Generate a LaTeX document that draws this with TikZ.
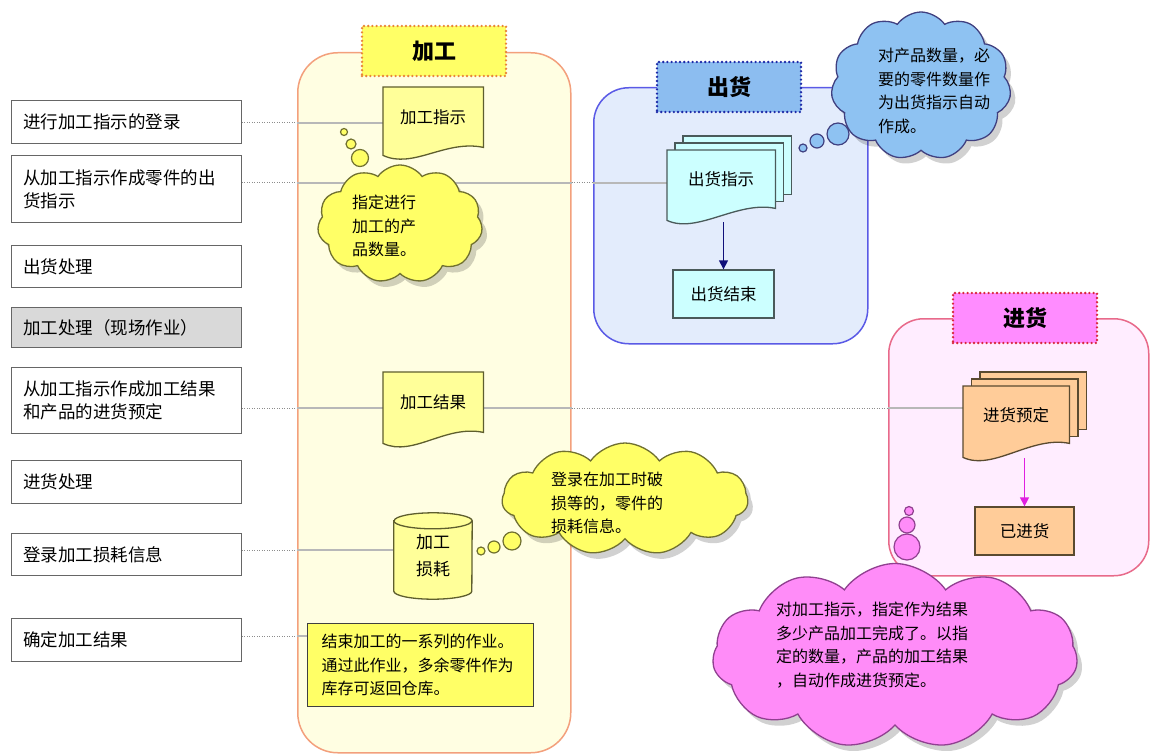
\documentclass[tikz,border=0pt]{standalone}
\usepackage{fontspec}
\setmainfont{Noto Sans CJK SC}
\usetikzlibrary{shapes.symbols,shadows,calc,arrows.meta}
\pgfdeclarelayer{back}
\pgfdeclarelayer{mid}
\pgfsetlayers{back,mid,main}
\definecolor{boxG}{HTML}{D9D9D9}
\definecolor{colF}{HTML}{FFFEE2}
\definecolor{colD}{HTML}{F3A07C}
\definecolor{shipF}{HTML}{E3ECFC}
\definecolor{shipD}{HTML}{5A5AE6}
\definecolor{recvF}{HTML}{FFEDFF}
\definecolor{recvD}{HTML}{E86A8A}
\definecolor{tKF}{HTML}{FFFF66}
\definecolor{tKD}{HTML}{E8853A}
\definecolor{tSF}{HTML}{8CBDF0}
\definecolor{tSD}{HTML}{1E2AA8}
\definecolor{tRF}{HTML}{FF8CFF}
\definecolor{tRD}{HTML}{D8283C}
\definecolor{kDocF}{HTML}{FFFF99}
\definecolor{kDocD}{HTML}{5E5E2E}
\definecolor{sDocF}{HTML}{CCFFFF}
\definecolor{sDocD}{HTML}{4A5A5A}
\definecolor{rDocF}{HTML}{FFCC99}
\definecolor{rDocD}{HTML}{5A4A30}
\definecolor{noteF}{HTML}{FFFF66}
\definecolor{yelC}{HTML}{FFFF66}
\definecolor{yelD}{HTML}{707030}
\definecolor{bluC}{HTML}{8EC2F2}
\definecolor{bluD}{HTML}{404080}
\definecolor{pinC}{HTML}{FF8CF8}
\definecolor{pinD}{HTML}{904090}
\definecolor{arrS}{HTML}{10107A}
\definecolor{arrR}{HTML}{E020E0}
\newcommand{\docwave}[3]{\draw[#2] (#1.north west) -- (#1.north east) -- (#1.south east) .. controls ($(#1.south east)+(-38,-8)$) and ($(#1.south west)+(30,#3+14)$) .. ($(#1.south west)+(0,#3)$) -- cycle;}
\begin{document}
\begin{tikzpicture}[x=1pt,y=-1pt,
  lbox/.style={draw=black!60, line width=0.9pt, fill=white, text width=206pt, inner xsep=12pt, inner ysep=0pt, align=left, font=\fontsize{17.5}{23}\selectfont, anchor=north west},
  ptxt/.style={font=\fontsize{16}{23.5}\selectfont, align=left, inner sep=0pt, anchor=west},
  docn/.style={inner sep=0pt, anchor=north west, font=\fontsize{16.5}{24}\selectfont, align=center},
  kdoc/.style={fill=kDocF, draw=kDocD, line width=1.3pt},
  sdoc/.style={fill=sDocF, draw=sDocD, line width=1.3pt},
  rdoc/.style={fill=rDocF, draw=rDocD, line width=1.3pt},
  ttl/.style={font=\fontsize{22}{26}\selectfont\bfseries, minimum width=144pt, minimum height=50pt, line width=2.6pt, dash pattern=on 0pt off 4.2pt, line cap=round},
  panel/.style={line width=1.5pt, anchor=north west, inner sep=0pt},
  conn/.style={draw=black!28, line width=1.3pt},
  dotc/.style={draw=black!45, line width=1pt, dash pattern=on 1pt off 1.5pt},
  cld/.style={cloud, cloud puffs=11, cloud puff arc=110, cloud ignores aspect, line width=1.3pt, inner sep=0pt, drop shadow={shadow xshift=5pt, shadow yshift=-6pt, fill=black, opacity=0.18}},
  bub/.style={circle, inner sep=0pt, line width=1.2pt},
  plain/.style={draw, line width=1.3pt, inner sep=0pt, font=\fontsize{16.5}{24}\selectfont}
]
\useasboundingbox (0,0) rectangle (1150,754);

% ---------- left list ----------
\node[lbox, minimum height=43pt] (b1) at (11,100) {进行加工指示的登录};
\node[lbox, minimum height=67pt] (b2) at (11,155) {从加工指示作成零件的出\\货指示};
\node[lbox, minimum height=42pt] (b3) at (11,245) {出货处理};
\node[lbox, minimum height=40pt, fill=boxG] (b4) at (11,307) {加工处理（现场作业）};
\node[lbox, minimum height=66pt] (b5) at (11,367) {从加工指示作成加工结果\\和产品的进货预定};
\node[lbox, minimum height=43pt] (b6) at (11,460) {进货处理};
\node[lbox, minimum height=42pt] (b7) at (11,533) {登录加工损耗信息};
\node[lbox, minimum height=43pt] (b8) at (11,618) {确定加工结果};

% ---------- titles ----------
\node[ttl, fill=tKF, draw=tKD] (tK) at (434,51) {加工};
\node[ttl, fill=tSF, draw=tSD] (tS) at (729,87) {出货};
\node[ttl, fill=tRF, draw=tRD] (tR) at (1025,318) {进货};

% ---------- document / process nodes ----------
\node[docn, minimum width=100pt, minimum height=60pt] (ki) at (383,87) {加工指示};
\node[docn, minimum width=100pt, minimum height=60pt] (kr) at (383,372) {加工结果};
\node[docn, minimum width=78pt, minimum height=70pt, anchor=center, font=\fontsize{17}{27}\selectfont] (kl) at (433,556) {加工\\损耗};
\node[docn, minimum width=108pt, minimum height=58pt] (sd) at (667,150) {出货指示};
\node[docn, minimum width=106pt, minimum height=57pt] (rd) at (963,386) {进货预定};
\node[plain, fill=sDocF, draw=sDocD, minimum width=101pt, minimum height=48pt] (sj) at (723.5,294) {出货结束};
\node[plain, fill=rDocF, draw=rDocD, minimum width=99pt, minimum height=48pt] (rj) at (1024.5,531) {已进货};
\node[draw=black!75, line width=1.3pt, fill=noteF, anchor=north west, minimum height=83pt, text width=198pt, inner xsep=14pt, inner ysep=0pt, align=left, font=\fontsize{16}{23.5}\selectfont] (nt) at (307,623) {结束加工的一系列的作业。\\通过此作业，多余零件作为\\库存可返回仓库。};

% ---------- arrows ----------
\draw[arrS, line width=1.3pt, -{Triangle[width=9pt,length=9pt]}] ($(sj.north |- sd.south)+(0,14)$) -- (sj.north);
\draw[arrR, line width=1.3pt, -{Triangle[width=9pt,length=9pt]}] ($(rj.north |- rd.south)+(0,15)$) -- (rj.north);

% ---------- clouds ----------
\node[cld, fill=yelC, draw=yelD, minimum width=165pt, minimum height=118pt] (c1) at (400,224) {};
\node[ptxt] (c1t) at (352,226) {指定进行\\加工的产\\品数量。};
\node[bub, fill=yelC, draw=yelD, minimum size=7pt] (c1a) at (344,132) {};
\node[bub, fill=yelC, draw=yelD, minimum size=10pt] (c1b) at (351,144) {};
\node[bub, fill=yelC, draw=yelD, minimum size=17pt] (c1c) at (360,158) {};

\node[cld, fill=yelC, draw=yelD, minimum width=246pt, minimum height=112pt] (c2) at (625,499) {};
\node[ptxt] (c2t) at (551,503) {登录在加工时破\\损等的，零件的\\损耗信息。};
\node[bub, fill=yelC, draw=yelD, minimum size=8pt] (c2a) at (481,551) {};
\node[bub, fill=yelC, draw=yelD, minimum size=12pt] (c2b) at (494,547) {};
\node[bub, fill=yelC, draw=yelD, minimum size=18pt] (c2c) at (512,541) {};

\node[cld, fill=bluC, draw=bluD, minimum width=180pt, minimum height=148pt] (c3) at (921,86) {};
\node[ptxt] (c3t) at (878,91) {对产品数量，必\\要的零件数量作\\为出货指示自动\\作成。};
\node[bub, fill=bluC, draw=bluD, minimum size=8pt] (c3a) at (803,148) {};
\node[bub, fill=bluC, draw=bluD, minimum size=14pt] (c3b) at (817,141) {};
\node[bub, fill=bluC, draw=bluD, minimum size=22pt] (c3c) at (838,134) {};

\node[cld, fill=pinC, draw=pinD, minimum width=365pt, minimum height=185pt] (c4) at (895,656) {};
\node[ptxt] (c4t) at (776,645) {对加工指示，指定作为结果\\多少产品加工完成了。以指\\定的数量，产品的加工结果\\，自动作成进货预定。};
\node[bub, fill=pinC, draw=pinD, minimum size=9pt] (c4a) at (909,511) {};
\node[bub, fill=pinC, draw=pinD, minimum size=16pt] (c4b) at (907,525) {};
\node[bub, fill=pinC, draw=pinD, minimum size=26pt] (c4c) at (907,547) {};

% ---------- shapes drawn behind texts ----------
\begin{pgfonlayer}{mid}
\docwave{ki}{kdoc}{8}
\docwave{kr}{kdoc}{11}
\draw[sdoc] ($(sd.north west)+(16,-14)$) rectangle ($(sd.south east)+(16,-14)$);
\draw[sdoc] ($(sd.north west)+(8,-7)$) rectangle ($(sd.south east)+(8,-7)$);
\docwave{sd}{sdoc}{12}
\draw[rdoc] ($(rd.north west)+(17,-14)$) rectangle ($(rd.south east)+(17,-14)$);
\draw[rdoc] ($(rd.north west)+(8.5,-7)$) rectangle ($(rd.south east)+(8.5,-7)$);
\docwave{rd}{rdoc}{14}
\draw[kdoc] (kl.north west) -- (kl.south west) arc[start angle=180, end angle=0, x radius=39, y radius=8] -- (kl.north east) arc[start angle=0, end angle=-180, x radius=39, y radius=8] -- cycle;
\draw[kdoc, fill=none] (kl.north west) arc[start angle=180, end angle=0, x radius=39, y radius=8];
\end{pgfonlayer}

% ---------- panels and connector lines ----------
\begin{pgfonlayer}{back}
\fill[white] (0,0) rectangle (1150,754);
\node[panel, draw=colD, fill=colF, rounded corners=40pt, minimum width=273pt, minimum height=700pt] (col) at (297,52) {};
\node[panel, draw=shipD, fill=shipF, rounded corners=35pt, minimum width=274pt, minimum height=256pt] (shipP) at (593,87) {};
\node[panel, draw=recvD, fill=recvF, rounded corners=35pt, minimum width=260pt, minimum height=257pt] (recvP) at (888,318) {};
\coordinate (L1) at (0,123);
\coordinate (L2) at (0,183);
\coordinate (L5) at (0,408);
\coordinate (L7) at (0,550);
\coordinate (L8) at (0,636);
\draw[dotc] (b1.east |- L1) -- (col.west |- L1);
\draw[conn] (col.west |- L1) -- (ki.west |- L1);
\draw[dotc] (b2.east |- L2) -- (col.west |- L2);
\draw[conn] (col.west |- L2) -- (col.east |- L2);
\draw[dotc] (col.east |- L2) -- (shipP.west |- L2);
\draw[conn] (shipP.west |- L2) -- (sd.west |- L2);
\draw[dotc] (b5.east |- L5) -- (col.west |- L5);
\draw[conn] (col.west |- L5) -- (kr.west |- L5);
\draw[conn] (kr.east |- L5) -- (col.east |- L5);
\draw[dotc] (col.east |- L5) -- (recvP.west |- L5);
\draw[conn] (recvP.west |- L5) -- (rd.west |- L5);
\draw[dotc] (b7.east |- L7) -- (col.west |- L7);
\draw[conn] (col.west |- L7) -- (kl.west |- L7);
\draw[dotc] (b8.east |- L8) -- (col.west |- L8);
\draw[conn] (col.west |- L8) -- (nt.west |- L8);
\end{pgfonlayer}
\end{tikzpicture}
\end{document}
